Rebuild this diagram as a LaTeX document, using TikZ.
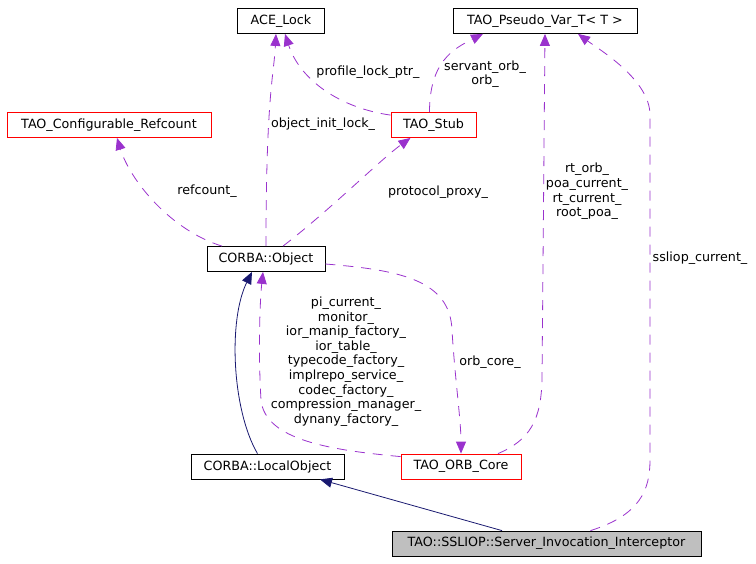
\documentclass[tikz,border=0pt]{standalone}
\usepackage{fontspec}
\setmainfont{DejaVu Sans}
\usetikzlibrary{arrows.meta}
\definecolor{usecol}{RGB}{154,50,205}
\definecolor{inhcol}{RGB}{25,25,112}
\definecolor{grayfill}{RGB}{191,191,191}

\begin{document}
\begin{tikzpicture}[x=1pt,y=-1pt,
  cls/.style={draw=black, line width=.8pt, minimum height=25, inner sep=0pt,
    font=\fontsize{12.7}{14.6}\selectfont},
  redcls/.style={cls, draw=red},
  lbl/.style={align=center, inner sep=0pt, font=\fontsize{12.7}{14.6}\selectfont},
  uses/.style={draw=usecol, line width=.8pt, dash pattern=on 10pt off 8pt,
    -{Triangle[width=10pt,length=12pt]}},
  inh/.style={draw=inhcol, line width=.8pt, -{Triangle[width=10pt,length=12pt]}}]
\useasboundingbox (0,0) rectangle (756,563);

% classes
\node[cls, minimum width=87] (acelock) at (281,21) {ACE\_Lock};
\node[cls, minimum width=184] (pseudo) at (545,21) {TAO\_Pseudo\_Var\_T< T >};
\node[redcls, minimum width=204] (refcount) at (109,125) {TAO\_Configurable\_Refcount};
\node[redcls, minimum width=85] (stub) at (433.5,125) {TAO\_Stub};
\node[cls, minimum width=118] (object) at (266,259) {CORBA::Object};
\node[cls, minimum width=153] (localobj) at (267.5,466.5) {CORBA::LocalObject};
\node[redcls, minimum width=120] (orbcore) at (461,466.5) {TAO\_ORB\_Core};
\node[cls, fill=grayfill, minimum width=309] (interceptor) at (546.5,543.5)
  {TAO::SSLIOP::Server\_Invocation\_Interceptor};

% member edges
\draw[uses] (object.north) .. controls +(0,-150) and +(-2,40) .. ([xshift=-5pt]acelock.south);
\draw[uses] ([yshift=-3pt]stub.north west) .. controls (340,108) and (300,80) .. ([xshift=4pt]acelock.south);
\draw[uses] ([xshift=-4pt]stub.north) .. controls +(0,-50) and +(-30,15) .. ([xshift=-62pt]pseudo.south);
\draw[uses] ([xshift=-44pt]object.north) .. controls (170,230) and (130,180) .. ([xshift=8pt]refcount.south);
\draw[uses] ([xshift=17pt]object.north) .. controls (330,210) and (380,160) .. ([xshift=-23pt]stub.south);
\draw[uses] ([yshift=-3pt]orbcore.north west) .. controls (330,450) and (265,440) .. (261,400)
  .. controls (258,350) and (260,300) .. ([xshift=-3pt]object.south);
\draw[uses] ([yshift=-5pt]object.east) .. controls (400,270) and (450,280) .. (452,330)
  .. controls (455,380) and (461,420) .. (orbcore.north);
\draw[uses] ([xshift=37pt]orbcore.north) .. controls (530,440) and (541,420) .. (542,380)
  -- (pseudo.south);
\draw[uses] ([xshift=44pt]interceptor.north) .. controls (640,515) and (650,490) .. (650,460)
  -- (650,115) .. controls (650,80) and (600,50) .. ([xshift=33pt]pseudo.south);

% inheritance
\draw[inh] ([xshift=-10pt]localobj.north) .. controls (232,410) and (228,320) .. ([xshift=-14pt]object.south);
\draw[inh] ([xshift=-44.5pt]interceptor.north) -- ([xshift=52.5pt]localobj.south);

% labels
\node[lbl] (lbinit) at (323,124) {object\_init\_lock\_};
\node[lbl] (lbprofile) at (368,72) {profile\_lock\_ptr\_};
\node[lbl] (lbservant) at (485,74) {servant\_orb\_\\orb\_};
\node[lbl] (lbrefcount) at (207,191) {refcount\_};
\node[lbl] (lbproxy) at (438,192) {protocol\_proxy\_};
\node[lbl] (lbpicur) at (346,361.5) {pi\_current\_\\monitor\_\\ior\_manip\_factory\_\\ior\_table\_\\typecode\_factory\_\\implrepo\_service\_\\codec\_factory\_\\compression\_manager\_\\dynany\_factory\_};
\node[lbl] (lborbcore) at (490,362) {orb\_core\_};
\node[lbl] (lbrtorb) at (587,191.5) {rt\_orb\_\\poa\_current\_\\rt\_current\_\\root\_poa\_};
\node[lbl] (lbssliop) at (700,258) {ssliop\_current\_};
\end{tikzpicture}
\end{document}
